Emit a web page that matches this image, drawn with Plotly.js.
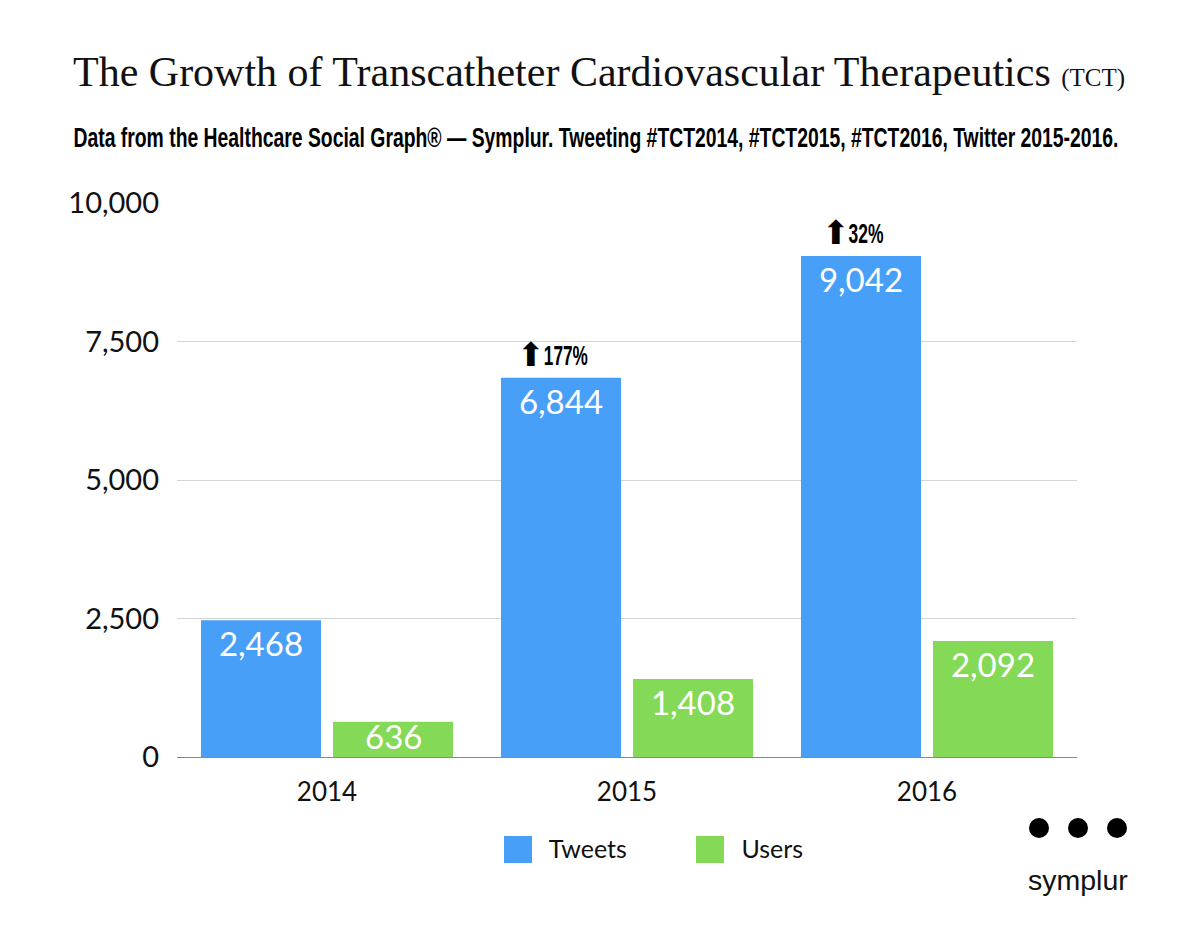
<!DOCTYPE html>
<html><head><meta charset="utf-8">
<script src="https://cdn.plot.ly/plotly-3.0.1.min.js"></script>
<style>html,body{margin:0;padding:0;background:#fff}</style></head>
<body><div id="chart" style="width:1200px;height:940px"></div>
<script>
const years = ["2014","2015","2016"];
const tweets = [2468,6844,9042];
const users = [636,1408,2092];
const tweetLabels = ["2,468","6,844","9,042"];
const userLabels = ["","1,408","2,092"];
const shortBarIndex = 0;
const shortBarLabel = "636";
const growthIndex = [1,2];
const growthValues = [6844,9042];
const growthLabels = ["177%","32%"];
const growthWidths = [44,35];
const tickVals = [0,2500,5000,7500,10000];
const tickText = ["0","2,500","5,000","7,500","10,000"];
const headline = "Data from the Healthcare Social Graph® — Symplur. Tweeting #TCT2014, #TCT2015, #TCT2016, Twitter 2015-2016.";
const F = "Lato, 'Open Sans', sans-serif";
const BOLD = "'Liberation Sans',sans-serif";
const L=177,T=203,W=900,H=554;
const px = v => (v-L)/W;
const py = v => (T+H-v)/H;
const traces = [
 {type:'bar',name:'\u00a0Tweets',x:years,y:tweets,text:tweetLabels,textposition:'inside',insidetextanchor:'end',
  marker:{color:'#489ff8'},textfont:{color:'#fff',size:33,family:F},textangle:0,constraintext:'none'},
 {type:'bar',name:'\u00a0Users',x:years,y:users,text:userLabels,textposition:'inside',insidetextanchor:'end',
  marker:{color:'#84d957'},textfont:{color:'#fff',size:33,family:F},textangle:0,constraintext:'none'}
];
const ann = [];
growthIndex.forEach((g,i)=>{
  const total = growthWidths[i]+21;
  ann.push({x:g,y:growthValues[i],xref:'x',yref:'y',xshift:-72-total/2+8.5,yshift:3,yanchor:'bottom',xanchor:'center',
    text:"⬆",showarrow:false,font:{size:33,color:'#000',family:BOLD}});
  ann.push({x:g,y:growthValues[i],xref:'x',yref:'y',xshift:-72-total/2+21+growthWidths[i]/2,yshift:5,yanchor:'bottom',xanchor:'center',
    text:growthLabels[i],showarrow:false,font:{size:28,color:'#000',family:BOLD,weight:700}});
});
ann.push({x:shortBarIndex,y:users[shortBarIndex],xref:'x',yref:'y',xshift:66,yshift:8,yanchor:'top',xanchor:'center',
  text:shortBarLabel,showarrow:false,font:{size:33,color:'#fff',family:F}});
ann.push(
 {xref:'paper',yref:'paper',x:px(598.5),y:py(72),xanchor:'center',yanchor:'middle',showarrow:false,
  text:"The Growth of Transcatheter Cardiovascular Therapeutics <span style='font-size:25px'>(TCT)</span>",
  font:{family:"'Liberation Serif',serif",size:42,color:'#111'}},
 {xref:'paper',yref:'paper',x:px(595.5),y:py(138),xanchor:'center',yanchor:'middle',showarrow:false,width:1050,
  text:headline,font:{family:BOLD,size:27,color:'#000',weight:700}},
 {xref:'paper',yref:'paper',x:px(1078),y:py(880),xanchor:'center',yanchor:'middle',showarrow:false,
  text:"symplur",font:{family:BOLD,size:28.5,color:'#111'}}
);
const shapes = [1039,1078,1117].map(c=>({type:'circle',xref:'paper',yref:'paper',
  x0:px(c-10),x1:px(c+10),y0:py(828+10),y1:py(828-10),fillcolor:'#000',line:{width:0}}));
[[504,'#489ff8'],[696,'#84d957']].forEach(([x,c])=>shapes.push({type:'rect',xref:'paper',yref:'paper',
  x0:px(x),x1:px(x+28),y0:py(863),y1:py(836),fillcolor:c,line:{width:0}}));
const layout = {
 width:1200,height:940,paper_bgcolor:'#fff',plot_bgcolor:'#fff',showlegend:true,
 margin:{l:L,r:1200-L-W,t:T,b:940-T-H},
 barmode:'group',bargap:0.12,bargroupgap:0.0909,
 xaxis:{type:'category',range:[-0.5,2.5],tickfont:{family:F,size:26,color:'#111'},showline:true,linecolor:'#888',linewidth:1,ticks:'',showgrid:false,ticklabelstandoff:12},
 yaxis:{range:[0,10000],tickvals:tickVals,ticktext:tickText,tickfont:{family:F,size:29,color:'#111'},gridcolor:'#d4d4d4',gridwidth:1,zeroline:false,ticks:'',ticklabelstandoff:17},
 legend:{orientation:'h',x:px(503),xanchor:'left',y:py(848),yanchor:'middle',font:{family:F,size:25,color:'#111'},itemwidth:30,entrywidth:147,entrywidthmode:'pixels',traceorder:'normal',bgcolor:'rgba(0,0,0,0)'},
 annotations:ann,shapes:shapes
};
Plotly.newPlot('chart',traces,layout,{displayModeBar:false,responsive:false}).then(()=>{
  const squeeze = {[headline]:1045};
  growthLabels.forEach((t,i)=>squeeze[t]=growthWidths[i]);
  document.querySelectorAll('.annotation-text').forEach(el=>{
    const w = squeeze[el.textContent];
    if(w){el.setAttribute('textLength',w);el.setAttribute('lengthAdjust','spacingAndGlyphs');}
  });
});
</script></body></html>
